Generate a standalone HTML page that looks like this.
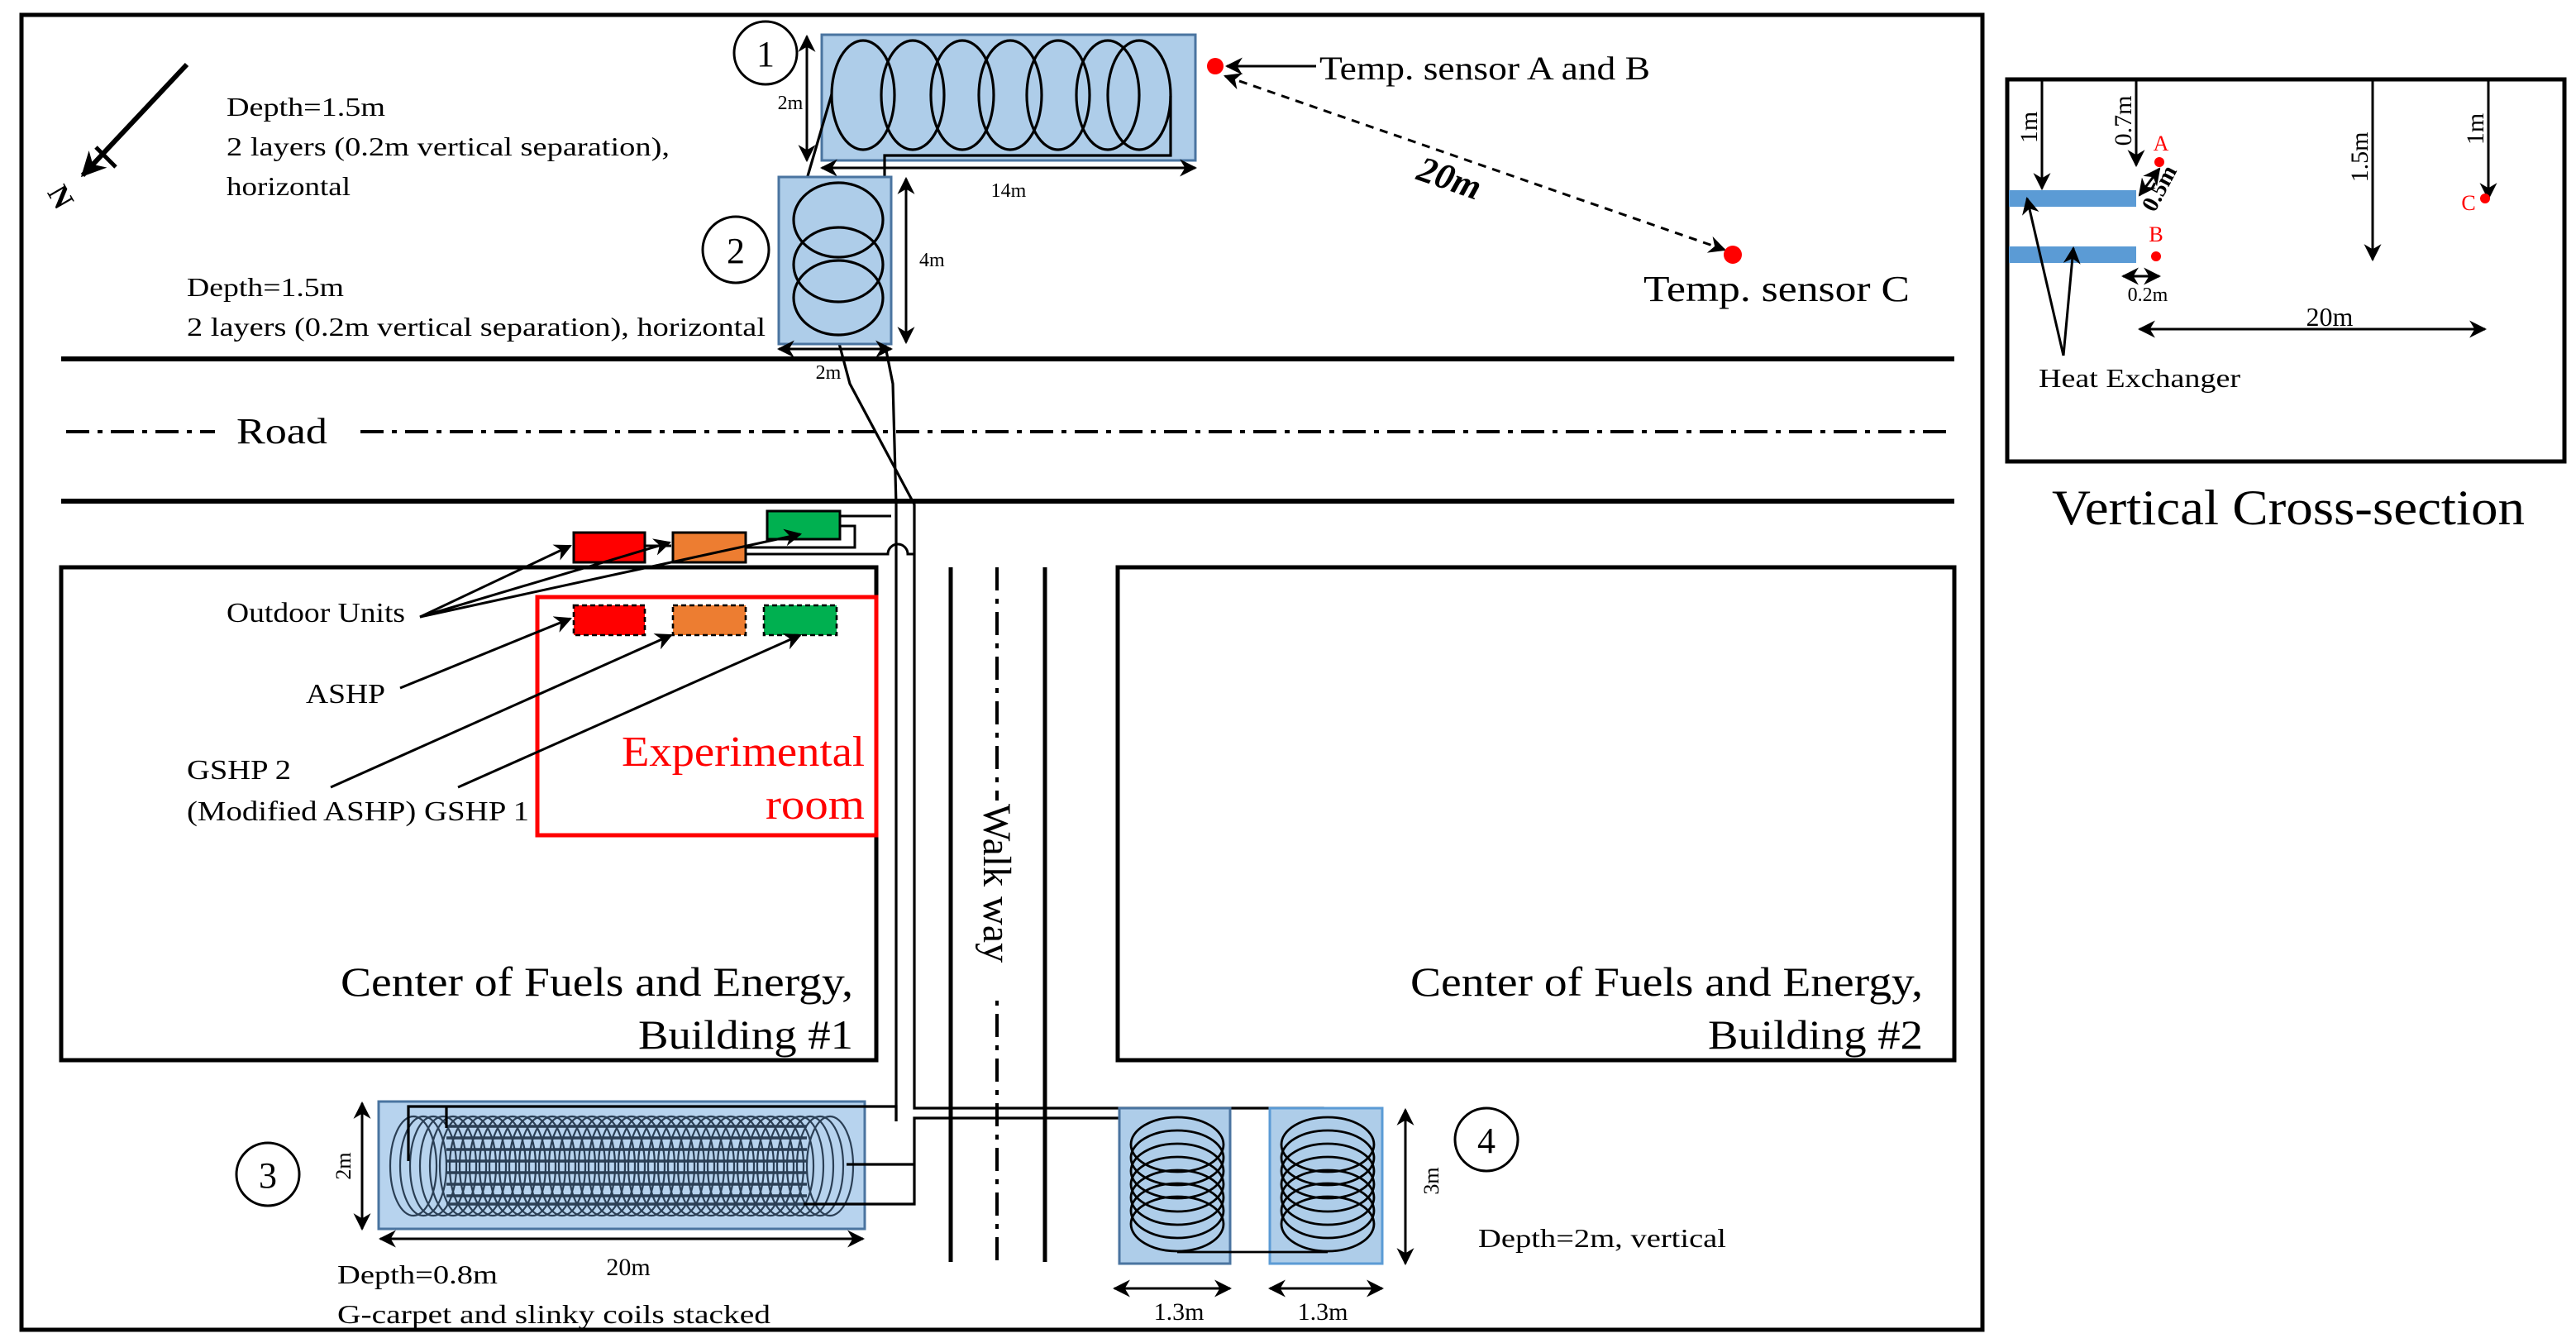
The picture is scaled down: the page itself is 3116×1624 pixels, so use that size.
<!DOCTYPE html>
<html><head><meta charset="utf-8"><style>
html,body{margin:0;padding:0;background:#fff}
svg{display:block;font-family:"Liberation Serif","Times New Roman",serif}
text{font-family:"Liberation Serif","Times New Roman",serif;fill:#000}
</style></head><body>
<svg width="3116" height="1624" viewBox="0 0 1558 812" xmlns="http://www.w3.org/2000/svg" font-family="Liberation Serif, serif">
<defs>
<marker id="ah" viewBox="0 0 10 10" refX="9" refY="5" markerWidth="5" markerHeight="5" orient="auto-start-reverse" markerUnits="strokeWidth">
<path d="M0,0 L10,5 L0,10 L3,5 Z" fill="#000"/></marker>
<marker id="ah2" viewBox="0 0 10 10" refX="9" refY="5" markerWidth="7" markerHeight="7" orient="auto-start-reverse" markerUnits="strokeWidth">
<path d="M0,0 L10,5 L0,10 L3,5 Z" fill="#000"/></marker>
</defs>
<rect width="1558" height="812" fill="#fff"/>
<rect x="13" y="9" width="1186" height="795" fill="none" stroke="#000" stroke-width="2.5"/>

<line x1="113" y1="39" x2="50" y2="106" stroke="#000" stroke-width="3" marker-end="url(#ah)"/>
<line x1="58" y1="89" x2="70" y2="101" stroke="#000" stroke-width="2.5"/>
<text x="35" y="124" font-size="18" font-weight="bold" transform="rotate(60 35 120)" text-anchor="middle">N</text>

<text x="137" y="70" font-size="16" textLength="96" lengthAdjust="spacingAndGlyphs">Depth=1.5m</text>
<text x="137" y="94" font-size="16" textLength="268" lengthAdjust="spacingAndGlyphs">2 layers  (0.2m vertical  separation),</text>
<text x="137" y="118" font-size="16" textLength="75" lengthAdjust="spacingAndGlyphs">horizontal</text>
<text x="113" y="179" font-size="16" textLength="95" lengthAdjust="spacingAndGlyphs">Depth=1.5m</text>
<text x="113" y="203" font-size="16" textLength="350" lengthAdjust="spacingAndGlyphs">2 layers  (0.2m vertical  separation),  horizontal</text>

<circle cx="463" cy="32" r="19" fill="none" stroke="#000" stroke-width="1.5"/>
<text x="463" y="40" font-size="22" text-anchor="middle">1</text>
<rect x="497" y="21" width="226" height="76" fill="#aecde9" stroke="#4a74a0" stroke-width="1.5"/>
<g fill="none" stroke="#000" stroke-width="1.6">
<ellipse cx="522" cy="57.5" rx="19" ry="33"/>
<ellipse cx="552" cy="57.5" rx="19" ry="33"/>
<ellipse cx="582" cy="57.5" rx="19" ry="33"/>
<ellipse cx="611" cy="57.5" rx="19" ry="33"/>
<ellipse cx="640" cy="57.5" rx="19" ry="33"/>
<ellipse cx="670" cy="57.5" rx="19" ry="33"/>
<ellipse cx="689" cy="57.5" rx="19" ry="33"/>
<polyline points="708,58 708,94 535,94 535,207 540,232 542,305 542,678"/>
<line x1="503" y1="57" x2="486" y2="115"/>
<polyline points="506,202 514,232 553,305 553,670 800,670 800,678"/>
</g>
<line x1="488" y1="22" x2="488" y2="97" stroke="#000" stroke-width="1.5" marker-start="url(#ah2)" marker-end="url(#ah2)"/>
<text x="478" y="66" font-size="12" text-anchor="middle">2m</text>
<line x1="497" y1="101.5" x2="723" y2="101.5" stroke="#000" stroke-width="1.5" marker-start="url(#ah2)" marker-end="url(#ah2)"/>
<text x="610" y="119" font-size="12" text-anchor="middle">14m</text>

<circle cx="445" cy="151" r="20" fill="none" stroke="#000" stroke-width="1.5"/>
<text x="445" y="159" font-size="22" text-anchor="middle">2</text>
<rect x="471" y="107" width="68" height="101" fill="#aecde9" stroke="#4a74a0" stroke-width="1.5"/>
<g fill="none" stroke="#000" stroke-width="1.6">
<ellipse cx="507" cy="133" rx="27" ry="22.5"/>
<ellipse cx="507" cy="160" rx="27" ry="22.5"/>
<ellipse cx="507" cy="180" rx="27" ry="22.5"/>
</g>
<line x1="548" y1="108" x2="548" y2="207" stroke="#000" stroke-width="1.5" marker-start="url(#ah2)" marker-end="url(#ah2)"/>
<text x="556" y="161" font-size="12">4m</text>
<line x1="471" y1="211" x2="539" y2="211" stroke="#000" stroke-width="1.5" marker-start="url(#ah2)" marker-end="url(#ah2)"/>
<text x="501" y="229" font-size="12" text-anchor="middle">2m</text>

<circle cx="735" cy="40" r="5" fill="#f00"/>
<line x1="796" y1="40" x2="742" y2="40" stroke="#000" stroke-width="1.5" marker-end="url(#ah2)"/>
<text x="798" y="48" font-size="20" textLength="200" lengthAdjust="spacingAndGlyphs">Temp. sensor A and B</text>
<line x1="741" y1="46" x2="1043" y2="151" stroke="#000" stroke-width="1.5" stroke-dasharray="5,4" marker-start="url(#ah2)" marker-end="url(#ah2)"/>
<circle cx="1048" cy="154" r="5.5" fill="#f00"/>
<text x="877" y="115" font-size="22" font-weight="bold" font-style="italic" text-anchor="middle" transform="rotate(19 877 107)">20m</text>
<text x="994" y="182" font-size="22" textLength="161" lengthAdjust="spacingAndGlyphs">Temp.  sensor  C</text>

<line x1="37" y1="217" x2="1182" y2="217" stroke="#000" stroke-width="3"/>
<line x1="37" y1="303" x2="1182" y2="303" stroke="#000" stroke-width="3"/>
<line x1="40" y1="261" x2="130" y2="261" stroke="#000" stroke-width="2" stroke-dasharray="14,5,3,5"/>
<line x1="218" y1="261" x2="1182" y2="261" stroke="#000" stroke-width="2" stroke-dasharray="14,5,3,5"/>
<text x="143" y="268" font-size="22" textLength="55" lengthAdjust="spacingAndGlyphs">Road</text>

<rect x="37" y="343" width="493" height="298" fill="none" stroke="#000" stroke-width="2.5"/>
<rect x="676" y="343" width="506" height="298" fill="none" stroke="#000" stroke-width="2.5"/>
<text x="516" y="602" font-size="25" text-anchor="end" textLength="310" lengthAdjust="spacingAndGlyphs">Center of Fuels and Energy,</text>
<text x="516" y="634" font-size="25" text-anchor="end" textLength="130" lengthAdjust="spacingAndGlyphs">Building #1</text>
<text x="1163" y="602" font-size="25" text-anchor="end" textLength="310" lengthAdjust="spacingAndGlyphs">Center of Fuels and Energy,</text>
<text x="1163" y="634" font-size="25" text-anchor="end" textLength="130" lengthAdjust="spacingAndGlyphs">Building #2</text>

<line x1="575" y1="343" x2="575" y2="763" stroke="#000" stroke-width="2.5"/>
<line x1="632" y1="343" x2="632" y2="763" stroke="#000" stroke-width="2.5"/>
<line x1="603" y1="343" x2="603" y2="763" stroke="#000" stroke-width="2" stroke-dasharray="14,5,3,5"/>
<rect x="588" y="484" width="22" height="118" fill="#fff"/>
<text x="0" y="0" font-size="24" transform="translate(595,486) rotate(90)">Walk way</text>

<g fill="none" stroke="#000" stroke-width="1.5">
<line x1="507" y1="312" x2="539" y2="312"/>
<polyline points="507,318 517,318 517,331 450,331"/>
<path d="M450,335 L537,335 A6,6 0 0 1 549,335 L553,335"/>
<line x1="389" y1="330" x2="406" y2="330"/>
</g>
<rect x="347" y="322" width="43" height="18" fill="#f00" stroke="#000" stroke-width="1.5"/>
<rect x="407" y="322" width="44" height="18" fill="#ed7d31" stroke="#000" stroke-width="1.5"/>
<rect x="464" y="309" width="44" height="17" fill="#00b050" stroke="#000" stroke-width="1.5"/>
<rect x="325" y="361" width="205" height="144" fill="none" stroke="#f00" stroke-width="2.5"/>
<rect x="347" y="366" width="43" height="18" fill="#f00" stroke="#000" stroke-width="1.3" stroke-dasharray="3,2"/>
<rect x="407" y="366" width="44" height="18" fill="#ed7d31" stroke="#000" stroke-width="1.3" stroke-dasharray="3,2"/>
<rect x="462" y="366" width="44" height="18" fill="#00b050" stroke="#000" stroke-width="1.3" stroke-dasharray="3,2"/>
<text x="523" y="463" font-size="26" style="fill:#f00" text-anchor="end" textLength="147" lengthAdjust="spacingAndGlyphs">Experimental</text>
<text x="523" y="495" font-size="26" style="fill:#f00" text-anchor="end" textLength="60" lengthAdjust="spacingAndGlyphs">room</text>
<g stroke="#000" stroke-width="1.5" marker-end="url(#ah2)">
<line x1="254" y1="373" x2="345" y2="330"/>
<line x1="254" y1="373" x2="405" y2="328"/>
<line x1="254" y1="373" x2="484" y2="323"/>
<line x1="242" y1="416" x2="345" y2="374"/>
<line x1="200" y1="476" x2="406" y2="384"/>
<line x1="277" y1="476" x2="484" y2="384"/>
</g>
<text x="137" y="376" font-size="17" textLength="108" lengthAdjust="spacingAndGlyphs">Outdoor Units</text>
<text x="185" y="425" font-size="17" textLength="48" lengthAdjust="spacingAndGlyphs">ASHP</text>
<text x="113" y="471" font-size="17" textLength="63" lengthAdjust="spacingAndGlyphs">GSHP 2</text>
<text x="113" y="496" font-size="17" textLength="207" lengthAdjust="spacingAndGlyphs">(Modified  ASHP)  GSHP 1</text>

<circle cx="162" cy="710" r="19" fill="none" stroke="#000" stroke-width="1.5"/>
<text x="162" y="718" font-size="22" text-anchor="middle">3</text>
<rect x="229" y="666" width="294" height="77" fill="#b7d3ee" stroke="#4a74a0" stroke-width="1.5"/>
<g fill="none" stroke="#2b3f55" stroke-width="1.1">
<ellipse cx="250" cy="705" rx="14" ry="30"/><ellipse cx="256" cy="705" rx="14" ry="30"/>
<ellipse cx="262" cy="705" rx="14" ry="30"/><ellipse cx="268" cy="705" rx="14" ry="30"/><ellipse cx="274" cy="705" rx="14" ry="30"/>
<ellipse cx="280" cy="705" rx="14" ry="30"/><ellipse cx="286" cy="705" rx="14" ry="30"/><ellipse cx="292" cy="705" rx="14" ry="30"/>
<ellipse cx="298" cy="705" rx="14" ry="30"/><ellipse cx="304" cy="705" rx="14" ry="30"/><ellipse cx="310" cy="705" rx="14" ry="30"/>
<ellipse cx="316" cy="705" rx="14" ry="30"/><ellipse cx="322" cy="705" rx="14" ry="30"/><ellipse cx="328" cy="705" rx="14" ry="30"/>
<ellipse cx="334" cy="705" rx="14" ry="30"/><ellipse cx="340" cy="705" rx="14" ry="30"/><ellipse cx="346" cy="705" rx="14" ry="30"/>
<ellipse cx="352" cy="705" rx="14" ry="30"/><ellipse cx="358" cy="705" rx="14" ry="30"/><ellipse cx="364" cy="705" rx="14" ry="30"/>
<ellipse cx="370" cy="705" rx="14" ry="30"/><ellipse cx="376" cy="705" rx="14" ry="30"/><ellipse cx="382" cy="705" rx="14" ry="30"/>
<ellipse cx="388" cy="705" rx="14" ry="30"/><ellipse cx="394" cy="705" rx="14" ry="30"/><ellipse cx="400" cy="705" rx="14" ry="30"/>
<ellipse cx="406" cy="705" rx="14" ry="30"/><ellipse cx="412" cy="705" rx="14" ry="30"/><ellipse cx="418" cy="705" rx="14" ry="30"/>
<ellipse cx="424" cy="705" rx="14" ry="30"/><ellipse cx="430" cy="705" rx="14" ry="30"/><ellipse cx="436" cy="705" rx="14" ry="30"/>
<ellipse cx="442" cy="705" rx="14" ry="30"/><ellipse cx="448" cy="705" rx="14" ry="30"/><ellipse cx="454" cy="705" rx="14" ry="30"/>
<ellipse cx="460" cy="705" rx="14" ry="30"/><ellipse cx="466" cy="705" rx="14" ry="30"/><ellipse cx="472" cy="705" rx="14" ry="30"/>
<ellipse cx="478" cy="705" rx="14" ry="30"/><ellipse cx="484" cy="705" rx="14" ry="30"/><ellipse cx="490" cy="705" rx="14" ry="30"/>
<ellipse cx="496" cy="705" rx="14" ry="30"/><ellipse cx="502" cy="705" rx="14" ry="30"/>
</g>
<g stroke="#2b3f55" stroke-width="1.8">
<line x1="270" y1="681" x2="488" y2="681"/><line x1="270" y1="688" x2="488" y2="688"/>
<line x1="270" y1="695" x2="488" y2="695"/><line x1="270" y1="702" x2="488" y2="702"/>
<line x1="270" y1="709" x2="488" y2="709"/><line x1="270" y1="716" x2="488" y2="716"/>
<line x1="270" y1="723" x2="488" y2="723"/><line x1="270" y1="728" x2="488" y2="728"/>
</g>
<g fill="none" stroke="#000" stroke-width="1.6">
<polyline points="542,678 542,669 247,669 247,702"/>
<line x1="270" y1="669" x2="270" y2="682"/>
<polyline points="512,704 553,704"/>
<polyline points="486,728 553,728 553,676 712,676"/>
</g>
<line x1="219" y1="667" x2="219" y2="743" stroke="#000" stroke-width="1.5" marker-start="url(#ah2)" marker-end="url(#ah2)"/>
<text x="0" y="0" font-size="13" text-anchor="middle" transform="translate(212,705) rotate(-90)">2m</text>
<line x1="230" y1="749" x2="522" y2="749" stroke="#000" stroke-width="1.5" marker-start="url(#ah2)" marker-end="url(#ah2)"/>
<text x="380" y="771" font-size="15" text-anchor="middle">20m</text>
<text x="204" y="776" font-size="16" textLength="97" lengthAdjust="spacingAndGlyphs">Depth=0.8m</text>
<text x="204" y="800" font-size="16" textLength="262" lengthAdjust="spacingAndGlyphs">G-carpet and slinky  coils  stacked</text>

<rect x="677" y="670" width="67" height="94" fill="#aecde9" stroke="#4a74a0" stroke-width="1.5"/>
<rect x="768" y="670" width="68" height="94" fill="#aecde9" stroke="#5b9bd5" stroke-width="1.5"/>
<g fill="none" stroke="#000" stroke-width="1.4">
<ellipse cx="712" cy="692" rx="28" ry="16.5"/><ellipse cx="712" cy="700" rx="28" ry="16.5"/>
<ellipse cx="712" cy="708" rx="28" ry="16.5"/><ellipse cx="712" cy="716" rx="28" ry="16.5"/>
<ellipse cx="712" cy="724" rx="28" ry="16.5"/><ellipse cx="712" cy="732" rx="28" ry="16.5"/>
<ellipse cx="712" cy="740" rx="28" ry="16.5"/>
<ellipse cx="803" cy="692" rx="28" ry="16.5"/><ellipse cx="803" cy="700" rx="28" ry="16.5"/>
<ellipse cx="803" cy="708" rx="28" ry="16.5"/><ellipse cx="803" cy="716" rx="28" ry="16.5"/>
<ellipse cx="803" cy="724" rx="28" ry="16.5"/><ellipse cx="803" cy="732" rx="28" ry="16.5"/>
<ellipse cx="803" cy="740" rx="28" ry="16.5"/>
<line x1="712" y1="757" x2="803" y2="757"/>
</g>
<line x1="850" y1="671" x2="850" y2="764" stroke="#000" stroke-width="1.5" marker-start="url(#ah2)" marker-end="url(#ah2)"/>
<text x="0" y="0" font-size="13" text-anchor="middle" transform="translate(870,714) rotate(-90)">3m</text>
<line x1="674" y1="779" x2="744" y2="779" stroke="#000" stroke-width="1.5" marker-start="url(#ah2)" marker-end="url(#ah2)"/>
<line x1="768" y1="779" x2="836" y2="779" stroke="#000" stroke-width="1.5" marker-start="url(#ah2)" marker-end="url(#ah2)"/>
<text x="713" y="798" font-size="15" text-anchor="middle">1.3m</text>
<text x="800" y="798" font-size="15" text-anchor="middle">1.3m</text>
<circle cx="899" cy="689" r="19" fill="none" stroke="#000" stroke-width="1.5"/>
<text x="899" y="697" font-size="22" text-anchor="middle">4</text>
<text x="894" y="754" font-size="16" textLength="150" lengthAdjust="spacingAndGlyphs">Depth=2m,  vertical</text>

<rect x="1214" y="48" width="337" height="231" fill="none" stroke="#000" stroke-width="2.5"/>
<rect x="1215" y="115" width="77" height="10" fill="#5b9bd5"/>
<rect x="1215" y="149" width="77" height="10" fill="#5b9bd5"/>
<g stroke="#000" stroke-width="1.5" marker-end="url(#ah2)">
<line x1="1235" y1="49" x2="1235" y2="114"/>
<line x1="1292" y1="49" x2="1292" y2="100"/>
<line x1="1435" y1="49" x2="1435" y2="157"/>
<line x1="1505" y1="49" x2="1505" y2="120"/>
<line x1="1294" y1="118" x2="1306" y2="102" marker-start="url(#ah2)"/>
<line x1="1284" y1="167" x2="1306" y2="167" marker-start="url(#ah2)"/>
<line x1="1294" y1="199" x2="1503" y2="199" marker-start="url(#ah2)"/>
<line x1="1248" y1="215" x2="1226" y2="120"/>
<line x1="1248" y1="215" x2="1254" y2="150"/>
</g>
<text x="0" y="0" font-size="15" text-anchor="middle" transform="translate(1232,77) rotate(-90)">1m</text>
<text x="0" y="0" font-size="15" text-anchor="middle" transform="translate(1289,73) rotate(-90)">0.7m</text>
<text x="0" y="0" font-size="15" text-anchor="middle" transform="translate(1432,95) rotate(-90)">1.5m</text>
<text x="0" y="0" font-size="15" text-anchor="middle" transform="translate(1502,78) rotate(-90)">1m</text>
<text x="0" y="0" font-size="14" font-weight="bold" text-anchor="middle" transform="translate(1310,116) rotate(-62)">0.5m</text>
<circle cx="1306" cy="98" r="3" fill="#f00"/>
<circle cx="1304" cy="155" r="3" fill="#f00"/>
<circle cx="1503" cy="120" r="3" fill="#f00"/>
<text x="1307" y="91" font-size="13" style="fill:#f00" text-anchor="middle">A</text>
<text x="1304" y="146" font-size="13" style="fill:#f00" text-anchor="middle">B</text>
<text x="1493" y="127" font-size="13" style="fill:#f00" text-anchor="middle">C</text>
<text x="1299" y="182" font-size="12" text-anchor="middle">0.2m</text>
<text x="1409" y="197" font-size="16" text-anchor="middle">20m</text>
<text x="1233" y="234" font-size="16" textLength="122" lengthAdjust="spacingAndGlyphs">Heat Exchanger</text>
<text x="1384" y="317" font-size="30" text-anchor="middle" textLength="286" lengthAdjust="spacingAndGlyphs">Vertical Cross-section</text>
</svg>
</body></html>
